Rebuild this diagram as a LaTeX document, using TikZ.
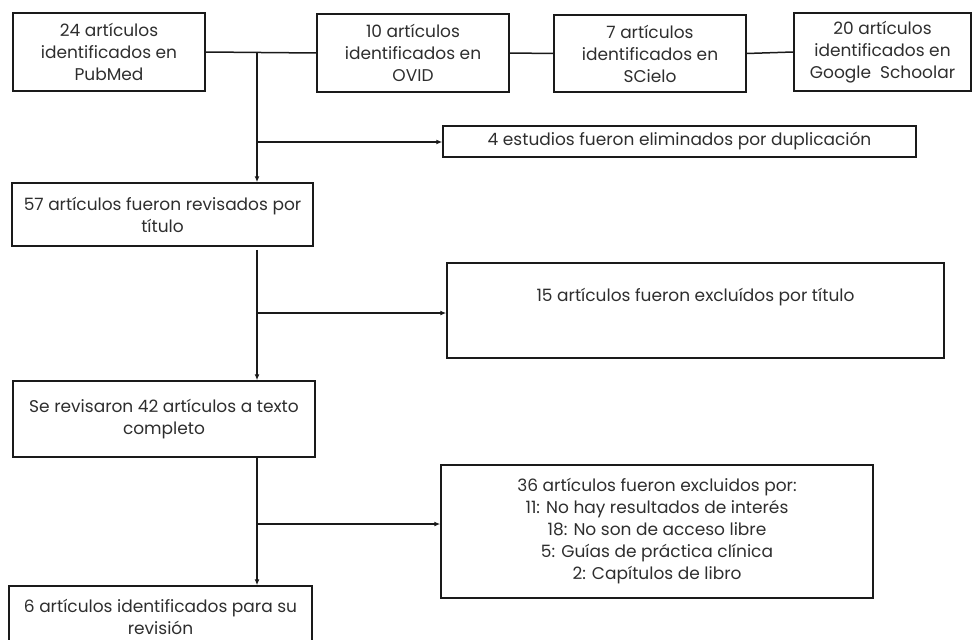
\documentclass[tikz,border=0pt]{standalone}
\usepackage{fontspec}
\setmainfont{Poppins}
\usetikzlibrary{arrows.meta,calc}
\definecolor{txtc}{HTML}{2E2E2E}
\definecolor{linec}{HTML}{1A1A1A}
\tikzset{
  box/.style={draw=linec, line width=1.5pt, inner sep=0pt, align=center, text=txtc,
    font=\fontsize{17}{22}\selectfont},
  txt/.style={inner sep=0pt, align=center, text=txtc, font=\fontsize{17}{22}\selectfont},
  conn/.style={draw=linec, line width=1.5pt},
  arr/.style={conn, -{Latex[length=6pt,width=5pt]}}
}
\begin{document}
\begin{tikzpicture}[x=1pt,y=-1pt]
\useasboundingbox (0,0) rectangle (973,639);
% top sources
\node[box, minimum width=192pt, minimum height=78pt] (b1) at (109,52) {24 artículos\\identificados en\\PubMed};
\node[box, minimum width=192pt, minimum height=78pt] (b2) at (413,53) {10 artículos\\identificados en\\OVID};
\node[box, minimum width=192pt, minimum height=77pt] (b3) at (650,53.5) {7 artículos\\identificados en\\SCielo};
\node[box, minimum width=177pt, minimum height=78pt] (b4) at (882.5,52) {20 artículos\\identificados en\\Google~~Schoolar};
% side boxes
\node[box, minimum width=473pt, minimum height=31pt] (dup) at (679.5,141.5) {4 estudios fueron eliminados por duplicación};
\node[box, minimum width=497pt, minimum height=95pt] (ex1) at (695.5,310.5) {};
\node[txt] (ex1t) at (695.5,297) {15 artículos fueron excluídos por título};
\node[box, minimum width=432pt, minimum height=133pt] (ex2) at (657,531.5) {36 artículos fueron excluidos por:\\11: No hay resultados de interés\\18: No son de acceso libre\\5: Guías de práctica clínica\\2: Capítulos de libro};
% main column
\node[box, minimum width=301pt, minimum height=63pt] (b57) at (162.5,214.5) {57 artículos fueron revisados por\\título};
\node[box, minimum width=302pt, minimum height=76pt] (b42) at (164,419) {Se revisaron 42 artículos a texto\\completo};
\node[box, minimum width=303pt, minimum height=61pt] (b6) at (160.5,616.5) {6 artículos identificados para su\\revisión};
% junctions
\coordinate (j1) at (257,52);
\coordinate (j2) at (257,142);
\coordinate (j3) at (257,313);
\coordinate (j4) at (257,524);
% connectors
\draw[conn] (b1.east) -- (b2.west);
\draw[conn] (b2.east) -- (b3.west);
\draw[conn] (b3.east) -- (b4.west);
\draw[arr] (j1) -- (j1 |- b57.north);
\draw[arr] (j2) -- (j2 -| dup.west);
\draw[arr] ([yshift=-3pt]b57.south -| j1) -- (j1 |- b42.north);
\draw[arr] (j3) -- (j3 -| ex1.west);
\draw[arr] (b42.south -| j1) -- (j1 |- b6.north);
\draw[arr] (j4) -- (j4 -| ex2.west);
\end{tikzpicture}
\end{document}
